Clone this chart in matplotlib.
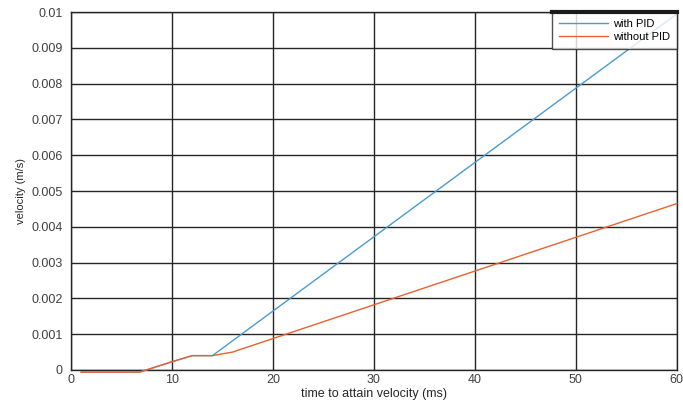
import matplotlib
matplotlib.use("Agg")
import matplotlib.pyplot as plt

# Data
t_pid = [1.0, 6.8, 10.0, 12.0, 14.0, 60.0]
v_pid = [-0.00006, -0.00006, 0.00023, 0.0004, 0.0004, 0.00995]
t_nopid = [1.0, 6.8, 10.0, 12.0, 14.0, 16.0, 60.0]
v_nopid = [-0.00006, -0.00006, 0.00023, 0.0004, 0.0004, 0.0005, 0.00465]
xticks = [0, 10, 20, 30, 40, 50, 60]
yticks = [0, 0.001, 0.002, 0.003, 0.004, 0.005, 0.006, 0.007, 0.008, 0.009, 0.01]
ytick_labels = ["0", "0.001", "0.002", "0.003", "0.004", "0.005", "0.006",
                "0.007", "0.008", "0.009", "0.01"]

plt.rcParams['font.family'] = ['Liberation Sans', 'DejaVu Sans']

fig = plt.figure(figsize=(6.83, 4.03), dpi=100)
ax = fig.add_axes([0.104, 0.082, 0.887, 0.888])

ax.plot(t_pid, v_pid, color='#4a9bd1', lw=1.0, label='with PID', clip_on=False, zorder=3)
ax.plot(t_nopid, v_nopid, color='#e8622d', lw=1.0, label='without PID', clip_on=False, zorder=3)

ax.set_xlim(0, 60)
ax.set_ylim(0, 0.01)
ax.set_xticks(xticks)
ax.set_yticks(yticks)
ax.set_yticklabels(ytick_labels)
ax.grid(True, color='#262626', lw=1.0)
ax.set_axisbelow(True)
for s in ax.spines.values():
    s.set_color('#262626')
    s.set_linewidth(1.0)
ax.tick_params(colors='#404040', labelsize=9, length=0)
ax.tick_params(axis='x', pad=3)
ax.tick_params(axis='y', pad=6)
ax.set_xlabel('time to attain velocity (ms)', fontsize=9, color='#262626', labelpad=1)
ax.set_ylabel('velocity (m/s)', fontsize=8, color='#262626', labelpad=4)

leg = ax.legend(loc='upper right', fontsize=8, frameon=True, fancybox=False,
                borderaxespad=0.0, handlelength=4.4, handletextpad=0.5,
                labelspacing=0.3, borderpad=0.6, edgecolor='#262626')
leg.get_frame().set_linewidth(1.0)
fig.canvas.draw()
# thick top edge on the legend box
bb = leg.get_window_extent().transformed(fig.transFigure.inverted())
fig.add_artist(plt.Line2D([bb.x0, bb.x1], [bb.y1, bb.y1], transform=fig.transFigure,
                          color='#1a1a1a', lw=3))

fig.savefig('out.png', dpi=100)
